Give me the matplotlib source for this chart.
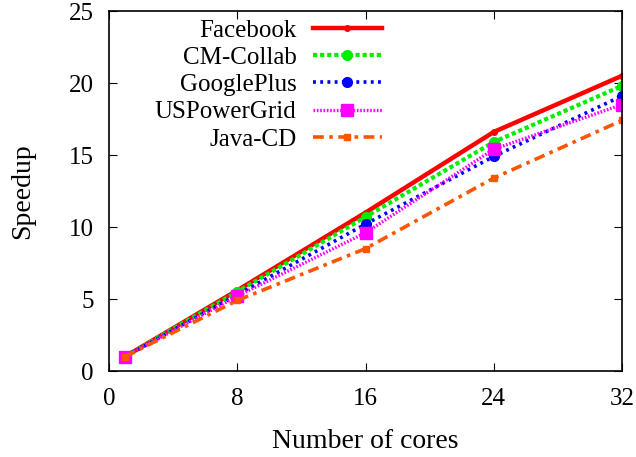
import matplotlib
matplotlib.use("Agg")
import matplotlib.pyplot as plt

cores = [1, 8, 16, 24, 32]
facebook = [1.0, 5.6, 11.0, 16.6, 20.5]
cm_collab = [1.0, 5.5, 10.7, 15.9, 19.8]
google_plus = [1.0, 5.3, 10.2, 14.9, 19.1]
us_power_grid = [1.0, 5.2, 9.6, 15.4, 18.5]
java_cd = [1.0, 4.9, 8.5, 13.4, 17.4]
xticks = [0, 8, 16, 24, 32]
yticks = [0, 5, 10, 15, 20, 25]

plt.rcParams['font.family'] = ['Liberation Serif', 'DejaVu Serif']

fig = plt.figure(figsize=(6.36, 4.57), dpi=100)
ax = fig.add_axes([109/636, (457-371)/457, 513/636, 360/457])

ax.plot(cores, facebook, color='#ff0000', lw=3.2, ls='-', marker='o', ms=4, label='Facebook')
ax.plot(cores, cm_collab, color='#00ee00', lw=3.0, ls=(0, (1, 0.7)), marker='o', ms=7, label='CM-Collab')
ax.plot(cores, google_plus, color='#0000ff', lw=2.6, ls=(0, (0.8, 1.2)), marker='o', ms=7, label='GooglePlus')
ax.plot(cores, us_power_grid, color='#ff00ff', lw=2.4, ls=(0, (0.5, 0.5)), marker='s', ms=8, label='USPowerGrid')
ax.plot(cores, java_cd, color='#ff5500', lw=2.6, ls=(0, (3, 1.5, 1, 1.5)), marker='s', ms=5, label='Java-CD')

ax.set_xlim(0, 32)
ax.set_ylim(0, 25)
ax.set_xticks(xticks)
ax.set_yticks(yticks)
ax.tick_params(direction='in', top=True, right=True, labelsize=18, length=6)
ax.tick_params(axis='x', pad=12)
ax.tick_params(axis='y', pad=11)
for s in ax.spines.values():
    s.set_linewidth(1.2)
ax.set_xlabel('Number of cores', fontsize=20, labelpad=14)
ax.set_ylabel('Speedup', fontsize=20, labelpad=24)

leg = ax.legend(loc='upper left', bbox_to_anchor=(0.065, 1.012), frameon=False, fontsize=18,
                markerfirst=False, handlelength=2.75, labelspacing=0.19, borderaxespad=0.1,
                handletextpad=0.65)
for t in leg.get_texts():
    t.set_ha('right')
fig.savefig('out.png', dpi=100)
